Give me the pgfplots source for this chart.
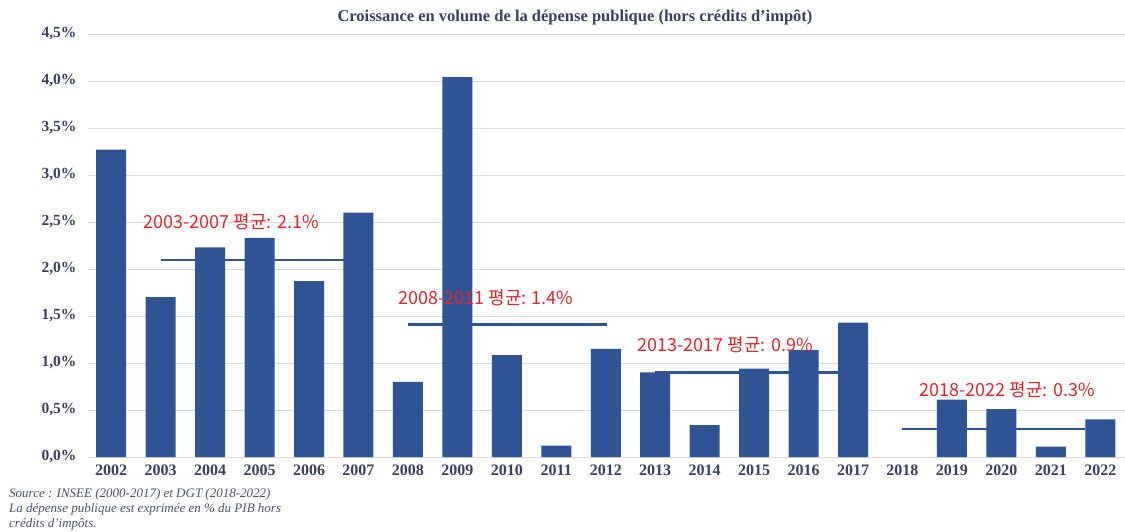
\documentclass[border=0pt]{standalone}
\usepackage{pgfplots}
\pgfplotsset{compat=1.18}
\usepackage{fontspec}
\setmainfont{Liberation Serif}
\newfontfamily\kr{Noto Sans CJK KR}
\definecolor{barblue}{RGB}{47,84,150}
\definecolor{avgred}{RGB}{228,36,44}
\definecolor{ticktext}{RGB}{58,64,94}
\definecolor{gridgray}{RGB}{220,220,220}
\definecolor{notegray}{RGB}{75,80,105}
\begin{document}
\begin{tikzpicture}
\useasboundingbox (0,0) rectangle (1125pt,531pt);
\begin{axis}[
at={(88pt,74pt)}, anchor=south west,
scale only axis, width=1037pt, height=423pt,
xmin=-0.47, xmax=20.5, ymin=0, ymax=4.5,
axis line style={draw=none},
major tick length=0pt,
ymajorgrids, grid style={gridgray, line width=1pt},
ytick={0,0.5,1,1.5,2,2.5,3,3.5,4,4.5},
/pgf/number format/assume math mode=true,
yticklabel={\pgfmathprintnumber[fixed,fixed zerofill,precision=1,use comma]{\tick}\%},
xtick={0,...,20},
xticklabels={2002,2003,2004,2005,2006,2007,2008,2009,2010,2011,2012,2013,2014,2015,2016,2017,2018,2019,2020,2021,2022},
yticklabel style={font=\fontsize{15.5}{17}\selectfont\bfseries, text=ticktext, xshift=-8pt},
xticklabel style={font=\fontsize{16}{18}\selectfont\bfseries, text=ticktext, yshift=-4pt},
]
\addplot[ybar, bar width=30pt, fill=barblue, draw=none] coordinates {
(0,3.27) (1,1.70) (2,2.23) (3,2.33) (4,1.87) (5,2.60) (6,0.80) (7,4.04)
(8,1.085) (9,0.12) (10,1.15) (11,0.90) (12,0.34) (13,0.94) (14,1.14)
(15,1.43) (17,0.61) (18,0.51) (19,0.11) (20,0.40)
};
\addplot[barblue, line width=2.2pt] coordinates {(1,2.1) (4.7,2.1)};
\addplot[barblue, line width=2.2pt] coordinates {(6,1.41) (10.03,1.41)};
\addplot[barblue, line width=2.2pt] coordinates {(11,0.9) (14.7,0.9)};
\addplot[barblue, line width=2.2pt] coordinates {(16,0.3) (19.7,0.3)};
\node[anchor=west, inner sep=0pt, text=avgred, font=\kr\fontsize{18}{20}\selectfont] at (axis cs:0.65,2.5) {2003-2007 평균: 2.1\%};
\node[anchor=west, inner sep=0pt, text=avgred, font=\kr\fontsize{18}{20}\selectfont] at (axis cs:5.8,1.69) {2008-2011 평균: 1.4\%};
\node[anchor=west, inner sep=0pt, text=avgred, font=\kr\fontsize{18}{20}\selectfont] at (axis cs:10.64,1.19) {2013-2017 평균: 0.9\%};
\node[anchor=west, inner sep=0pt, text=avgred, font=\kr\fontsize{18}{20}\selectfont] at (axis cs:16.34,0.713) {2018-2022 평균: 0.3\%};
\end{axis}
\node[text=ticktext, font=\fontsize{16.5}{18}\selectfont\bfseries, inner sep=0pt] at (575pt,514pt) {Croissance en volume de la dépense publique (hors crédits d'impôt)};
\node[anchor=base west, inner sep=0pt, text=notegray, font=\fontsize{13}{15}\selectfont\itshape] at (9pt,34pt) {Source : INSEE (2000-2017) et DGT (2018-2022)};
\node[anchor=base west, inner sep=0pt, text=notegray, font=\fontsize{13}{15}\selectfont\itshape] at (9pt,19pt) {La dépense publique est exprimée en \% du PIB hors};
\node[anchor=base west, inner sep=0pt, text=notegray, font=\fontsize{13}{15}\selectfont\itshape] at (9pt,4pt) {crédits d'impôts.};
\end{tikzpicture}
\end{document}
